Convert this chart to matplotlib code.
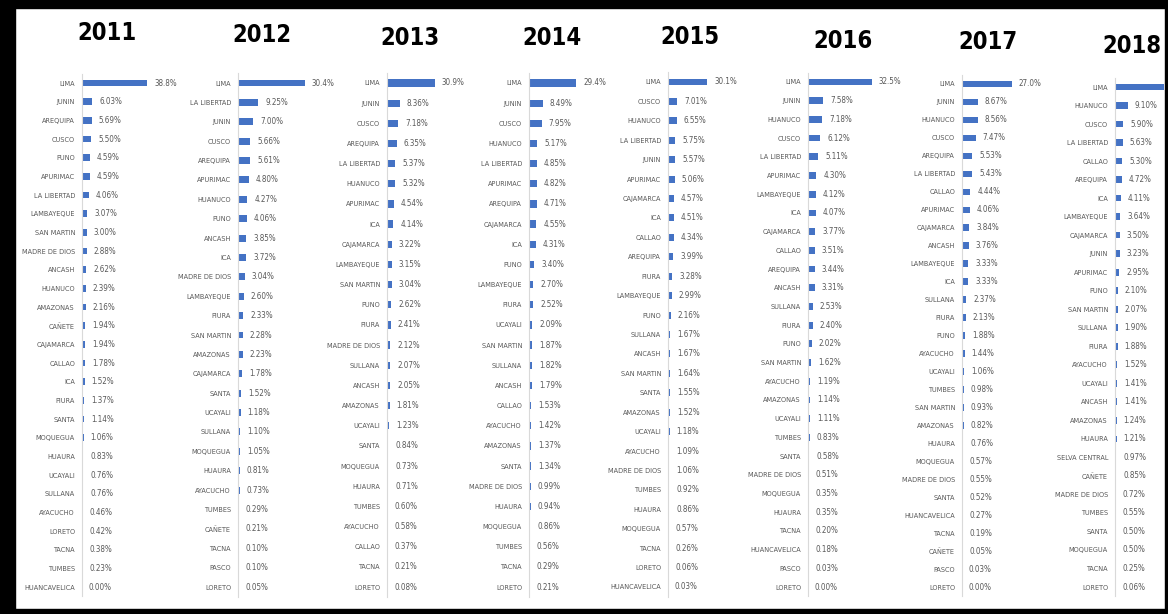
import matplotlib.pyplot as plt
from matplotlib.patches import Rectangle
from matplotlib import font_manager as fm

W, H = 1168, 614

regions_2011 = ['LIMA', 'JUNIN', 'AREQUIPA', 'CUSCO', 'PUNO', 'APURIMAC', 'LA LIBERTAD',
                'LAMBAYEQUE', 'SAN MARTIN', 'MADRE DE DIOS', 'ANCASH', 'HUANUCO', 'AMAZONAS',
                'CAÑETE', 'CAJAMARCA', 'CALLAO', 'ICA', 'PIURA', 'SANTA', 'MOQUEGUA', 'HUAURA',
                'UCAYALI', 'SULLANA', 'AYACUCHO', 'LORETO', 'TACNA', 'TUMBES', 'HUANCAVELICA']
values_2011 = [38.8, 6.03, 5.69, 5.50, 4.59, 4.59, 4.06, 3.07, 3.00, 2.88, 2.62, 2.39, 2.16,
               1.94, 1.94, 1.78, 1.52, 1.37, 1.14, 1.06, 0.83, 0.76, 0.76, 0.46, 0.42, 0.38,
               0.23, 0.00]

regions_2012 = ['LIMA', 'LA LIBERTAD', 'JUNIN', 'CUSCO', 'AREQUIPA', 'APURIMAC', 'HUANUCO',
                'PUNO', 'ANCASH', 'ICA', 'MADRE DE DIOS', 'LAMBAYEQUE', 'PIURA', 'SAN MARTIN',
                'AMAZONAS', 'CAJAMARCA', 'SANTA', 'UCAYALI', 'SULLANA', 'MOQUEGUA', 'HUAURA',
                'AYACUCHO', 'TUMBES', 'CAÑETE', 'TACNA', 'PASCO', 'LORETO']
values_2012 = [30.4, 9.25, 7.00, 5.66, 5.61, 4.80, 4.27, 4.06, 3.85, 3.72, 3.04, 2.60, 2.33,
               2.28, 2.23, 1.78, 1.52, 1.18, 1.10, 1.05, 0.81, 0.73, 0.29, 0.21, 0.10, 0.10,
               0.05]

regions_2013 = ['LIMA', 'JUNIN', 'CUSCO', 'AREQUIPA', 'LA LIBERTAD', 'HUANUCO', 'APURIMAC',
                'ICA', 'CAJAMARCA', 'LAMBAYEQUE', 'SAN MARTIN', 'PUNO', 'PIURA',
                'MADRE DE DIOS', 'SULLANA', 'ANCASH', 'AMAZONAS', 'UCAYALI', 'SANTA',
                'MOQUEGUA', 'HUAURA', 'TUMBES', 'AYACUCHO', 'CALLAO', 'TACNA', 'LORETO']
values_2013 = [30.9, 8.36, 7.18, 6.35, 5.37, 5.32, 4.54, 4.14, 3.22, 3.15, 3.04, 2.62, 2.41,
               2.12, 2.07, 2.05, 1.81, 1.23, 0.84, 0.73, 0.71, 0.60, 0.58, 0.37, 0.21, 0.08]

regions_2014 = ['LIMA', 'JUNIN', 'CUSCO', 'HUANUCO', 'LA LIBERTAD', 'APURIMAC', 'AREQUIPA',
                'CAJAMARCA', 'ICA', 'PUNO', 'LAMBAYEQUE', 'PIURA', 'UCAYALI', 'SAN MARTIN',
                'SULLANA', 'ANCASH', 'CALLAO', 'AYACUCHO', 'AMAZONAS', 'SANTA',
                'MADRE DE DIOS', 'HUAURA', 'MOQUEGUA', 'TUMBES', 'TACNA', 'LORETO']
values_2014 = [29.4, 8.49, 7.95, 5.17, 4.85, 4.82, 4.71, 4.55, 4.31, 3.40, 2.70, 2.52, 2.09,
               1.87, 1.82, 1.79, 1.53, 1.42, 1.37, 1.34, 0.99, 0.94, 0.86, 0.56, 0.29, 0.21]

regions_2015 = ['LIMA', 'CUSCO', 'HUANUCO', 'LA LIBERTAD', 'JUNIN', 'APURIMAC', 'CAJAMARCA',
                'ICA', 'CALLAO', 'AREQUIPA', 'PIURA', 'LAMBAYEQUE', 'PUNO', 'SULLANA',
                'ANCASH', 'SAN MARTIN', 'SANTA', 'AMAZONAS', 'UCAYALI', 'AYACUCHO',
                'MADRE DE DIOS', 'TUMBES', 'HUAURA', 'MOQUEGUA', 'TACNA', 'LORETO',
                'HUANCAVELICA']
values_2015 = [30.1, 7.01, 6.55, 5.75, 5.57, 5.06, 4.57, 4.51, 4.34, 3.99, 3.28, 2.99, 2.16,
               1.67, 1.67, 1.64, 1.55, 1.52, 1.18, 1.09, 1.06, 0.92, 0.86, 0.57, 0.26, 0.06,
               0.03]

regions_2016 = ['LIMA', 'JUNIN', 'HUANUCO', 'CUSCO', 'LA LIBERTAD', 'APURIMAC', 'LAMBAYEQUE',
                'ICA', 'CAJAMARCA', 'CALLAO', 'AREQUIPA', 'ANCASH', 'SULLANA', 'PIURA', 'PUNO',
                'SAN MARTIN', 'AYACUCHO', 'AMAZONAS', 'UCAYALI', 'TUMBES', 'SANTA',
                'MADRE DE DIOS', 'MOQUEGUA', 'HUAURA', 'TACNA', 'HUANCAVELICA', 'PASCO',
                'LORETO']
values_2016 = [32.5, 7.58, 7.18, 6.12, 5.11, 4.30, 4.12, 4.07, 3.77, 3.51, 3.44, 3.31, 2.53,
               2.40, 2.02, 1.62, 1.19, 1.14, 1.11, 0.83, 0.58, 0.51, 0.35, 0.35, 0.20, 0.18,
               0.03, 0.00]

regions_2017 = ['LIMA', 'JUNIN', 'HUANUCO', 'CUSCO', 'AREQUIPA', 'LA LIBERTAD', 'CALLAO',
                'APURIMAC', 'CAJAMARCA', 'ANCASH', 'LAMBAYEQUE', 'ICA', 'SULLANA', 'PIURA',
                'PUNO', 'AYACUCHO', 'UCAYALI', 'TUMBES', 'SAN MARTIN', 'AMAZONAS', 'HUAURA',
                'MOQUEGUA', 'MADRE DE DIOS', 'SANTA', 'HUANCAVELICA', 'TACNA', 'CAÑETE',
                'PASCO', 'LORETO']
values_2017 = [27.0, 8.67, 8.56, 7.47, 5.53, 5.43, 4.44, 4.06, 3.84, 3.76, 3.33, 3.33, 2.37,
               2.13, 1.88, 1.44, 1.06, 0.98, 0.93, 0.82, 0.76, 0.57, 0.55, 0.52, 0.27, 0.19,
               0.05, 0.03, 0.00]

regions_2018 = ['LIMA', 'HUANUCO', 'CUSCO', 'LA LIBERTAD', 'CALLAO', 'AREQUIPA', 'ICA',
                'LAMBAYEQUE', 'CAJAMARCA', 'JUNIN', 'APURIMAC', 'PUNO', 'SAN MARTIN',
                'SULLANA', 'PIURA', 'AYACUCHO', 'UCAYALI', 'ANCASH', 'AMAZONAS', 'HUAURA',
                'SELVA CENTRAL', 'CAÑETE', 'MADRE DE DIOS', 'TUMBES', 'SANTA', 'MOQUEGUA',
                'TACNA', 'LORETO']
# LIMA 2018 label is cut off in the source
values_2018 = [35.0, 9.10, 5.90, 5.63, 5.30, 4.72, 4.11, 3.64, 3.50, 3.23, 2.95, 2.10, 2.07,
               1.90, 1.88, 1.52, 1.41, 1.41, 1.24, 1.21, 0.97, 0.85, 0.72, 0.55, 0.50, 0.50,
               0.25, 0.06]

years = ['2011', '2012', '2013', '2014', '2015', '2016', '2017', '2018']
regions = [regions_2011, regions_2012, regions_2013, regions_2014,
           regions_2015, regions_2016, regions_2017, regions_2018]
values = [values_2011, values_2012, values_2013, values_2014,
          values_2015, values_2016, values_2017, values_2018]

# layout (pixels): axis x, px per %, title centre, first row y
axis_x = [82, 238, 387, 529, 668, 808, 962, 1115]
px_per = [1.68, 2.2, 1.55, 1.6, 1.3, 1.97, 1.85, 1.4]
title_xy = [(107, 33), (262, 35), (410, 38), (552, 38), (690, 37), (843, 41), (988, 42), (1132, 46)]
first_y = [83, 83, 83, 83, 82, 82, 84, 87]
last_y = 587


# look for a narrow / condensed font file, the original uses a Calibri-like face
def find_narrow(bold):
    best = None
    for f in fm.fontManager.ttflist:
        name = f.name.lower()
        narrow = ('narrow' in name or 'condensed' in name
                  or f.stretch in ('condensed', 'semi-condensed', 500, 300, 400))
        if 'extra' in name or 'ultra' in name or f.stretch in ('extra-condensed', 'ultra-condensed'):
            continue
        if not narrow or f.style != 'normal':
            continue
        w = f.weight if isinstance(f.weight, int) else (700 if 'bold' in str(f.weight) else 400)
        if bold and w < 600:
            continue
        if not bold and w >= 600:
            continue
        score = 0 if 'liberation' in name else (1 if 'dejavu' in name else 2)
        if best is None or score < best[0]:
            best = (score, f.fname)
    return best[1] if best else None


reg_file = find_narrow(False)
bold_file = find_narrow(True)
if reg_file:
    lab_font = fm.FontProperties(fname=reg_file, size=5.2)
    val_font = fm.FontProperties(fname=reg_file, size=5.8)
else:
    lab_font = fm.FontProperties(family='DejaVu Sans', size=4.4)
    val_font = fm.FontProperties(family='DejaVu Sans', size=4.8)
if bold_file:
    title_font = fm.FontProperties(fname=bold_file, size=17)
else:
    title_font = fm.FontProperties(family='DejaVu Sans', weight='bold', size=14)

fig = plt.figure(figsize=(W / 100, H / 100), dpi=100)
fig.patch.set_facecolor('white')

for i, year in enumerate(years):
    regs, vals = regions[i], values[i]
    n = len(regs)
    pitch = (last_y - first_y[i]) / (n - 1)
    top = first_y[i] - pitch / 2
    bottom = last_y + pitch / 2
    wpx = 90
    ax = fig.add_axes([axis_x[i] / W, 1 - bottom / H, wpx / W, (bottom - top) / H])
    ax.barh(range(n), vals, height=0.36, color='#4472C4')
    ax.set_ylim(n - 0.5, -0.5)
    ax.set_xlim(0, wpx / px_per[i])
    ax.set_yticks(range(n), regs)
    ax.set_xticks([])
    ax.tick_params(axis='y', length=0, pad=5, labelcolor='#595959')
    for t in ax.get_yticklabels():
        t.set_fontproperties(lab_font)
    for s in ['top', 'right', 'bottom']:
        ax.spines[s].set_visible(False)
    ax.spines['left'].set_color('#d9d9d9')
    ax.patch.set_alpha(0)
    labels = [f'{v:.1f}%' if v >= 10 else f'{v:.2f}%' for v in vals]
    if year == '2018':
        labels[0] = ''  # cut off by the picture edge in the source
    ax.bar_label(ax.containers[0], labels=labels, padding=5, fontproperties=val_font,
                 color='#595959')
    tx, ty = title_xy[i]
    fig.text(tx / W, 1 - ty / H, year, ha='center', va='center',
             fontproperties=title_font, color='black')

# black frame around the pasted picture
fig.add_artist(Rectangle((0, 0), 15 / W, 1, transform=fig.transFigure, color='black'))
fig.add_artist(Rectangle((0, 1 - 8 / H), 1, 8 / H, transform=fig.transFigure, color='black'))
fig.add_artist(Rectangle((1 - 3 / W, 0), 3 / W, 1, transform=fig.transFigure, color='black'))
fig.add_artist(Rectangle((0, 0), 1, 5 / H, transform=fig.transFigure, color='black'))

fig.savefig('out.png', dpi=100)
